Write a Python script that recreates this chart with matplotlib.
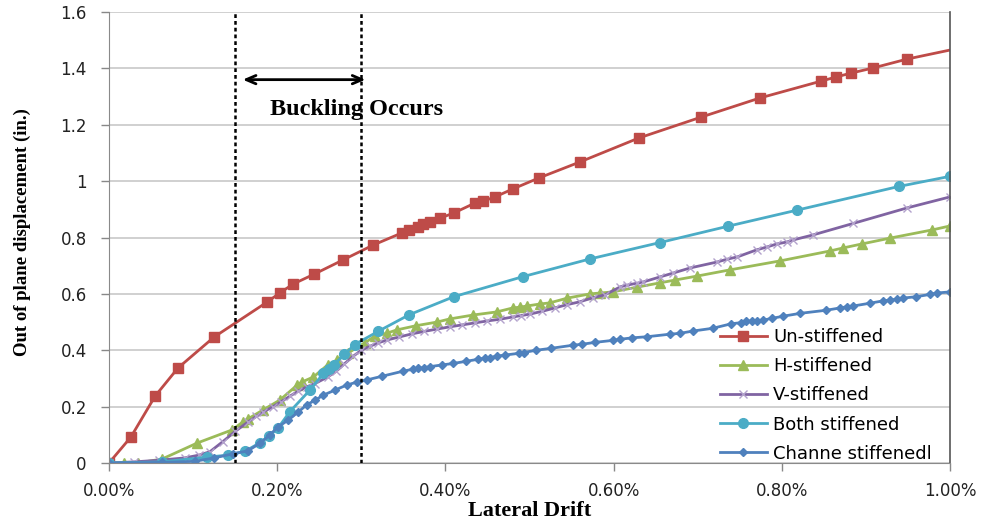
import matplotlib
matplotlib.use("Agg")
import matplotlib.pyplot as plt
from matplotlib.ticker import FuncFormatter

# ---------------- data (lateral drift in %, displacement in in.) ----------------
un_x = [0.0, 0.026, 0.055, 0.082, 0.125, 0.188, 0.203, 0.219, 0.244, 0.278, 0.314,
        0.348, 0.357, 0.367, 0.373, 0.382, 0.394, 0.410, 0.435, 0.445, 0.459, 0.480,
        0.511, 0.560, 0.630, 0.704, 0.774, 0.847, 0.864, 0.882, 0.908, 0.949, 1.0]
un_y = [0.0, 0.092, 0.238, 0.337, 0.447, 0.571, 0.603, 0.635, 0.670, 0.720, 0.773,
        0.816, 0.827, 0.837, 0.848, 0.855, 0.869, 0.887, 0.922, 0.929, 0.944, 0.972,
        1.011, 1.068, 1.153, 1.227, 1.295, 1.355, 1.369, 1.383, 1.401, 1.433, 1.465]

h_x = [0.0, 0.018, 0.034, 0.063, 0.105, 0.146, 0.159, 0.165, 0.183, 0.203, 0.224,
       0.229, 0.243, 0.260, 0.271, 0.284, 0.304, 0.316, 0.331, 0.342, 0.365, 0.390,
       0.405, 0.433, 0.461, 0.480, 0.489, 0.497, 0.512, 0.524, 0.545, 0.572, 0.584,
       0.599, 0.628, 0.655, 0.673, 0.699, 0.738, 0.798, 0.857, 0.873, 0.895, 0.929,
       0.979, 1.0]
h_y = [0.0, 0.0, 0.0, 0.014, 0.071, 0.117, 0.145, 0.156, 0.188, 0.223, 0.277,
       0.287, 0.305, 0.348, 0.365, 0.390, 0.426, 0.450, 0.461, 0.472, 0.487, 0.500,
       0.511, 0.525, 0.536, 0.550, 0.553, 0.557, 0.564, 0.568, 0.585, 0.600, 0.603,
       0.607, 0.624, 0.639, 0.649, 0.663, 0.685, 0.717, 0.752, 0.763, 0.777, 0.798,
       0.827, 0.841]

v_x = [0.0, 0.03, 0.06, 0.09, 0.107, 0.12, 0.135, 0.15, 0.165, 0.175, 0.183, 0.195,
       0.205, 0.215, 0.225, 0.235, 0.245, 0.26, 0.27, 0.28, 0.29, 0.30, 0.31, 0.32,
       0.33, 0.345, 0.36, 0.375, 0.39, 0.405, 0.42, 0.435, 0.45, 0.465, 0.48, 0.49,
       0.50, 0.515, 0.53, 0.545, 0.56, 0.575, 0.59, 0.608, 0.616, 0.628, 0.635, 0.655,
       0.671, 0.691, 0.723, 0.735, 0.747, 0.770, 0.782, 0.794, 0.806, 0.813, 0.837,
       0.885, 0.949, 1.0]
v_y = [0.0, 0.004, 0.010, 0.018, 0.028, 0.040, 0.075, 0.112, 0.145, 0.165, 0.180, 0.200,
       0.218, 0.237, 0.255, 0.270, 0.282, 0.305, 0.325, 0.352, 0.378, 0.400, 0.414, 0.426,
       0.436, 0.447, 0.458, 0.467, 0.475, 0.483, 0.490, 0.497, 0.504, 0.510, 0.518, 0.523,
       0.528, 0.538, 0.550, 0.562, 0.572, 0.586, 0.597, 0.625, 0.631, 0.638, 0.642, 0.660,
       0.674, 0.692, 0.713, 0.723, 0.731, 0.756, 0.766, 0.777, 0.784, 0.791, 0.809,
       0.850, 0.905, 0.944]

b_x = [0.0, 0.063, 0.117, 0.142, 0.162, 0.179, 0.190, 0.201, 0.215, 0.239, 0.255,
       0.262, 0.267, 0.280, 0.292, 0.320, 0.357, 0.410, 0.492, 0.572, 0.655, 0.736,
       0.818, 0.939, 1.0]
b_y = [0.0, 0.004, 0.021, 0.028, 0.042, 0.071, 0.095, 0.124, 0.182, 0.259, 0.318,
       0.335, 0.348, 0.385, 0.420, 0.467, 0.526, 0.590, 0.661, 0.724, 0.782, 0.840,
       0.897, 0.981, 1.017]

c_x = [0.0, 0.063, 0.102, 0.125, 0.148, 0.165, 0.180, 0.191, 0.201, 0.213, 0.225,
       0.235, 0.245, 0.255, 0.269, 0.283, 0.295, 0.307, 0.325, 0.350, 0.362, 0.368,
       0.374, 0.382, 0.396, 0.409, 0.425, 0.439, 0.447, 0.453, 0.461, 0.471, 0.487,
       0.493, 0.508, 0.526, 0.552, 0.562, 0.578, 0.599, 0.608, 0.622, 0.640, 0.667,
       0.679, 0.694, 0.718, 0.740, 0.752, 0.758, 0.764, 0.770, 0.778, 0.788, 0.802,
       0.822, 0.853, 0.869, 0.877, 0.885, 0.905, 0.920, 0.929, 0.937, 0.944, 0.960,
       0.976, 0.984, 1.0]
c_y = [0.0, 0.002, 0.006, 0.018, 0.033, 0.043, 0.071, 0.099, 0.128, 0.152, 0.181,
       0.206, 0.223, 0.241, 0.259, 0.277, 0.287, 0.295, 0.308, 0.326, 0.333, 0.336,
       0.338, 0.342, 0.348, 0.353, 0.361, 0.368, 0.372, 0.374, 0.379, 0.383, 0.389,
       0.392, 0.400, 0.407, 0.418, 0.421, 0.428, 0.435, 0.439, 0.444, 0.448, 0.457,
       0.460, 0.468, 0.478, 0.494, 0.498, 0.502, 0.504, 0.505, 0.507, 0.513, 0.521,
       0.531, 0.542, 0.550, 0.554, 0.557, 0.567, 0.575, 0.578, 0.581, 0.585, 0.590,
       0.598, 0.603, 0.607]

labels = ["Un-stiffened", "H-stiffened", "V-stiffened", "Both stiffened", "Channe stiffenedl"]
y_ticks = [0, 0.2, 0.4, 0.6, 0.8, 1.0, 1.2, 1.4, 1.6]
y_tick_labels = ["0", "0.2", "0.4", "0.6", "0.8", "1", "1.2", "1.4", "1.6"]
x_ticks = [0.0, 0.2, 0.4, 0.6, 0.8, 1.0]
buckle_lines = [0.15, 0.30]

# ---------------- figure ----------------
fig = plt.figure(figsize=(9.82, 5.22), dpi=100)
ax = fig.add_axes([109 / 982, 1 - 463 / 522, (950 - 109) / 982, (463 - 12) / 522])

ax.set_xlim(0, 1.0)
ax.set_ylim(0, 1.6)
ax.set_yticks(y_ticks)
ax.set_yticklabels(y_tick_labels)
ax.set_xticks(x_ticks)
ax.xaxis.set_major_formatter(FuncFormatter(lambda v, p: f"{v:.2f}%"))
ax.grid(axis="y", color="#c4c4c4", lw=1.1)
ax.set_axisbelow(True)
ax.tick_params(axis="both", labelsize=12, colors="#888888", labelcolor="#222222",
               length=6, width=1)
ax.tick_params(axis="y", pad=10)
ax.tick_params(axis="x", pad=8)
for s in ["left", "bottom"]:
    ax.spines[s].set_color("#8a8a8a")
ax.spines["top"].set_visible(False)
ax.spines["right"].set_color("#555555")
ax.spines["right"].set_linewidth(1.2)

n_un = len(un_x)
ax.plot(un_x, un_y, color="#BE4B48", lw=2, marker="s", ms=6.5,
        markevery=list(range(n_un - 1)), label=labels[0])
ax.plot(h_x, h_y, color="#9BBB59", lw=2, marker="^", ms=6.5, label=labels[1])
ax.plot(v_x, v_y, color="#8064A2", lw=2, marker="x", ms=6, mew=1,
        mec="#b3a2cc", label=labels[2])
ax.plot(b_x, b_y, color="#4BACC6", lw=2, marker="o", ms=7, label=labels[3])
ax.plot(c_x, c_y, color="#4F81BD", lw=2, marker="D", ms=4.5, label=labels[4])

for xv in buckle_lines:
    ax.axvline(xv, color="black", lw=1.8, linestyle=(0, (1.5, 1.2)), zorder=5)

ax.annotate("", xy=(0.159, 1.36), xytext=(0.305, 1.36),
            arrowprops=dict(arrowstyle="<->,head_length=0.7,head_width=0.3",
                            lw=2, color="black", shrinkA=0, shrinkB=0))
ax.text(0.294, 1.255, "Buckling Occurs", ha="center", va="center",
        family="Liberation Serif", fontweight="bold", fontsize=17.5)

leg = ax.legend(loc="upper left", bbox_to_anchor=(720 / 982, 1 - 328 / 522),
                bbox_transform=fig.transFigure, frameon=False, fontsize=13,
                handlelength=2.6, handletextpad=0.35, labelspacing=0.62,
                borderaxespad=0, borderpad=0)

fig.text(22 / 982, 1 - 232 / 522, "Out of plane displacement (in.)", rotation=90,
         ha="center", va="center", family="Liberation Serif", fontweight="bold",
         fontsize=13.5)
fig.text(530 / 982, 1 / 522, "Lateral Drift", ha="center", va="bottom",
         family="Liberation Serif", fontweight="bold", fontsize=16)

fig.savefig("out.png", dpi=100)
